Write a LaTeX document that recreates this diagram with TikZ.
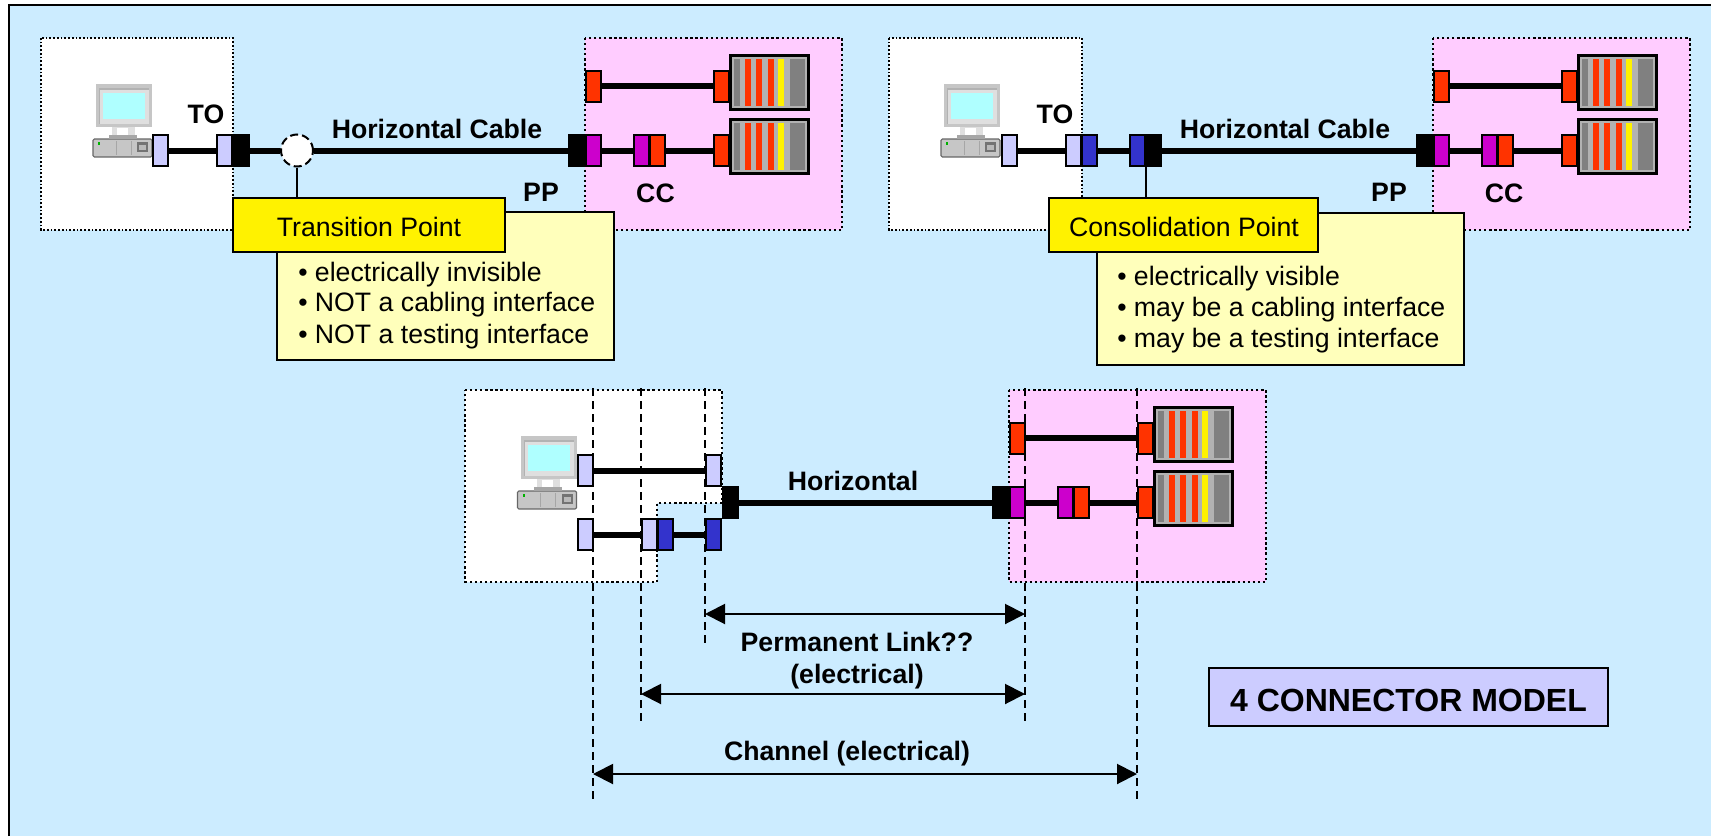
\documentclass[tikz,border=0pt]{standalone}
\usepackage{fontspec}
\setmainfont{Liberation Sans}
\usetikzlibrary{arrows.meta,positioning}
\definecolor{bgblue}{HTML}{CCECFF}
\definecolor{pinkbg}{HTML}{FFCCFF}
\definecolor{lav}{HTML}{CCCCFF}
\definecolor{red1}{HTML}{FF3300}
\definecolor{mag}{HTML}{CC00CC}
\definecolor{blue1}{HTML}{3333CC}
\definecolor{rackgrey}{HTML}{B2B2B2}
\definecolor{bargrey}{HTML}{808080}
\definecolor{paley}{HTML}{FFFFBB}
\definecolor{cyanscr}{HTML}{AFFFFF}
\tikzset{
 x=0.75pt,y=-0.75pt,
 connbox/.style={draw=black,line width=1.5pt,minimum width=11.25pt,minimum height=23.25pt,inner sep=0pt,outer sep=0pt},
 cable/.style={line width=4.5pt,black},
 dotbox/.style={draw=black,line width=1.7pt,dash pattern=on 1.7pt off 2.1pt},
 dotthin/.style={draw=black,line width=1.3pt,dash pattern=on 1.3pt off 1.5pt},
 lbl/.style={font=\fontsize{20pt}{24pt}\selectfont\bfseries,inner sep=0pt},
 txt/.style={font=\fontsize{20pt}{24pt}\selectfont,inner sep=0pt},
 dimline/.style={line width=1.5pt,dash pattern=on 6pt off 3.75pt},
 dimarrow/.style={line width=1.5pt,{Triangle[length=15pt,width=15pt]}-{Triangle[length=15pt,width=15pt]}},
 stem/.style={line width=1.5pt},
}
% rack #1 name, #2 left x, #3 top y
\newcommand{\rackbox}[3]{%
 \node[draw=black,line width=2.6pt,fill=rackgrey,minimum width=58.2pt,minimum height=40.2pt,inner sep=0pt,outer sep=0pt,anchor=north west] (#1) at (#2+1.75,#3+1.75) {};
 \fill[bargrey] (#2+5,#3+5) rectangle (#2+11,#3+52);
 \fill[red1] (#2+16,#3+5) rectangle (#2+22,#3+52);
 \fill[red1] (#2+27,#3+5) rectangle (#2+33,#3+52);
 \fill[red1] (#2+39,#3+5) rectangle (#2+45,#3+52);
 \fill[yellow] (#2+49,#3+5) rectangle (#2+55,#3+52);
 \fill[bargrey] (#2+61,#3+5) rectangle (#2+76,#3+52);
}
% computer at offset
\newcommand{\pc}[2]{%
 \begin{scope}[shift={(#1,#2)}]
 \fill[gray!45] (93,139) rectangle (152,157);
 \draw[gray!80!black,line width=0.8pt,rounded corners=1pt] (93,139) rectangle (152,157);
 \fill[gray!25] (112,127) rectangle (135,136);
 \fill[white] (117,128) rectangle (128,135);
 \fill[gray!70] (109,135) rectangle (137,139);
 \fill[gray!45] (96,84) rectangle (152,127);
 \fill[gray!60] (99,88) rectangle (149,124);
 \fill[gray!25] (100,90) rectangle (149,124);
 \fill[cyanscr] (103,93) rectangle (145,119);
 \fill[green!70!black] (98,142) rectangle (100,145);
 \fill[gray!90!black] (137,142) rectangle (148,152);
 \fill[gray!55] (139,145) rectangle (146,150);
 \draw[gray!70,line width=0.5pt] (116,141) -- (116,155) (131,141) -- (131,155);
 \end{scope}
}
\newcommand{\cb}[4]{\node[connbox,fill=#2] (#1) at (#3+8.5,#4) {};}
\begin{document}
\begin{tikzpicture}
\useasboundingbox (0,0) rectangle (1711,836);
\fill[bgblue] (9,5) rectangle (1711,836);
\coordinate (fbl) at (9,836); \coordinate (ftl) at (9,5); \coordinate (ftr) at (1711,5);
\draw[black,line width=1.7pt] (fbl)--(ftl)--(ftr);
%% Panel 1
\draw[dotthin,fill=white] (41,38) rectangle (233,230);
\draw[dotbox,fill=pinkbg] (585,38) rectangle (842,230);
\pc{0}{0}
\cb{aa}{lav}{152}{150.5}
\cb{ab}{lav}{216}{150.5}
\cb{ac}{black}{233}{150.5}
\node[draw=black,line width=1.5pt,dash pattern=on 6pt off 3pt,fill=white,circle,minimum size=24pt,inner sep=0] (ad) at (297,150.5) {};
\cb{ae}{black}{568}{150.5}
\cb{af}{mag}{585}{150.5}
\cb{ag}{mag}{633}{150.5}
\cb{ah}{red1}{649}{150.5}
\cb{ai}{red1}{713}{150.5}
\cb{aj}{red1}{585}{86}
\cb{ak}{red1}{713}{86}
\rackbox{ar}{729}{54}
\rackbox{as}{729}{118}
\draw[cable] (aa.east)--(ab.west);
\draw[cable] (ac.east)--(ad.west);
\draw[cable] (ad.east)--(ae.west);
\draw[cable] (af.east)--(ag.west);
\draw[cable] (ah.east)--(ai.west);
\draw[cable] (aj.east)--(ak.west);
\node[lbl] (t1) at (206,114) {TO};
\node[lbl] (t2) at (437,129) {Horizontal Cable};
\node[lbl] (t3) at (541,192) {PP};
\node[lbl] (t4) at (655.5,193) {CC};
\node[draw=black,line width=1.5pt,fill=paley,minimum width=252.5pt,minimum height=111pt,inner sep=0,outer sep=0,anchor=north west] (ap) at (277,212) {};
\node[draw=black,line width=1.5pt,fill=yellow,minimum width=204pt,minimum height=40.5pt,inner sep=0,outer sep=0,anchor=north west] (ay) at (233,198) {};
\node[txt] (ayt) at (369,226.5) {Transition Point};
\draw[stem] (ad.south)--(ad.south|-ay.north);
\node[txt,anchor=west] (b1) at (298,275) {• electrically invisible};
\node[txt,anchor=west] (b2) at (298,305) {• NOT a cabling interface};
\node[txt,anchor=west] (b3) at (298,337) {• NOT a testing interface};
%% Panel 2
\draw[dotthin,fill=white] (889,38) rectangle (1082,230);
\draw[dotbox,fill=pinkbg] (1433,38) rectangle (1690,230);
\pc{848}{0}
\cb{ba}{lav}{1001}{150.5}
\cb{bb}{lav}{1065}{150.5}
\cb{bc}{blue1}{1081}{150.5}
\cb{bd}{blue1}{1129}{150.5}
\cb{bx}{black}{1145}{150.5}
\cb{be}{black}{1416}{150.5}
\cb{bf}{mag}{1433}{150.5}
\cb{bg}{mag}{1481}{150.5}
\cb{bh}{red1}{1497}{150.5}
\cb{bi}{red1}{1561}{150.5}
\cb{bj}{red1}{1433}{86}
\cb{bk}{red1}{1561}{86}
\rackbox{br}{1577}{54}
\rackbox{bs}{1577}{118}
\draw[cable] (ba.east)--(bb.west);
\draw[cable] (bc.east)--(bd.west);
\draw[cable] (bx.east)--(be.west);
\draw[cable] (bf.east)--(bg.west);
\draw[cable] (bh.east)--(bi.west);
\draw[cable] (bj.east)--(bk.west);
\node[lbl] (u1) at (1055,114) {TO};
\node[lbl] (u2) at (1285,129) {Horizontal Cable};
\node[lbl] (u3) at (1389,192) {PP};
\node[lbl] (u4) at (1504,193) {CC};
\node[draw=black,line width=1.5pt,fill=paley,minimum width=275.5pt,minimum height=114pt,inner sep=0,outer sep=0,anchor=north west] (bp) at (1097,213) {};
\node[draw=black,line width=1.5pt,fill=yellow,minimum width=202pt,minimum height=40.5pt,inner sep=0,outer sep=0,anchor=north west] (by) at (1049,198) {};
\node[txt] (byt) at (1184,226.5) {Consolidation Point};
\draw[stem] (bx.south west)--(bx.south west|-by.north);
\node[txt,anchor=west] (c1) at (1117,279) {• electrically visible};
\node[txt,anchor=west] (c2) at (1117,310) {• may be a cabling interface};
\node[txt,anchor=west] (c3) at (1117,341) {• may be a testing interface};
%% Panel 3
\draw[dotbox,fill=white] (465,390) -- (722,390) -- (722,503) -- (657,503) -- (657,582) -- (465,582) -- cycle;
\draw[dotbox,fill=pinkbg] (1009,390) rectangle (1266,582);
\pc{424.5}{352}
\cb{ca}{lav}{577}{470.5}
\cb{cb}{lav}{705}{470.5}
\cb{cc}{lav}{577}{534.5}
\cb{cd}{lav}{641}{534.5}
\cb{ce}{blue1}{657}{534.5}
\cb{cf}{blue1}{705}{534.5}
\cb{cg}{black}{722}{502.5}
\cb{ch}{black}{992}{502.5}
\cb{ci}{mag}{1009}{502.5}
\cb{cj}{mag}{1057}{502.5}
\cb{ck}{red1}{1073}{502.5}
\cb{cl}{red1}{1137}{502.5}
\cb{cm}{red1}{1009}{438}
\cb{cn}{red1}{1137}{438}
\rackbox{cr}{1153}{406}
\rackbox{cs}{1153}{470}
\draw[cable] (ca.east)--(cb.west);
\draw[cable] (cc.east)--(cd.west);
\draw[cable] (ce.east)--(cf.west);
\draw[cable] (cg.east)--(ch.west);
\draw[cable] (ci.east)--(cj.west);
\draw[cable] (ck.east)--(cl.west);
\draw[cable] (cm.east)--(cn.west);
\coordinate (d1a) at (593,388); \coordinate (d1b) at (593,802);
\coordinate (d2a) at (641,388); \coordinate (d2b) at (641,722);
\coordinate (d3a) at (705,388); \coordinate (d3b) at (705,647);
\coordinate (d4a) at (1025,388); \coordinate (d4b) at (1025,722);
\coordinate (d5a) at (1137,388); \coordinate (d5b) at (1137,802);
\draw[dimline] (d1a)--(d1b);
\draw[dimline] (d2a)--(d2b);
\draw[dimline] (d3a)--(d3b);
\draw[dimline] (d4a)--(d4b);
\draw[dimline] (d5a)--(d5b);
\coordinate (e1a) at (705,614); \coordinate (e1b) at (1025,614);
\coordinate (e2a) at (641,694); \coordinate (e2b) at (1025,694);
\coordinate (e3a) at (593,774); \coordinate (e3b) at (1137,774);
\draw[dimarrow] (e1a)--(e1b);
\draw[dimarrow] (e2a)--(e2b);
\draw[dimarrow] (e3a)--(e3b);
\node[lbl] (v1) at (853,481) {Horizontal};
\node[lbl] (v2) at (857,642) {Permanent Link??};
\node[lbl] (v3) at (857,677) {(electrical)};
\node[lbl] (v4) at (847,754) {Channel (electrical)};
\node[draw=black,line width=1.5pt,fill=lav,minimum width=299pt,minimum height=44pt,inner sep=0,outer sep=0] (model) at (1408.5,697) {};
\node[inner sep=0,font=\fontsize{24pt}{28pt}\selectfont\bfseries] (modelt) at (1408.5,700) {4 CONNECTOR MODEL};
\end{tikzpicture}
\end{document}
